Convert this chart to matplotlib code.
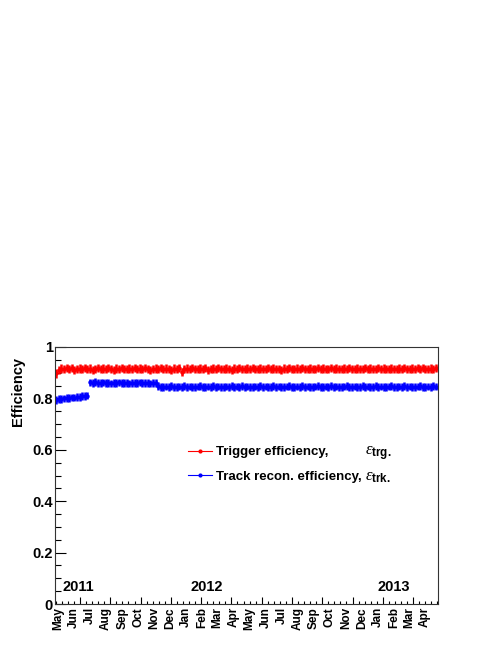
import matplotlib
matplotlib.use('Agg')
import matplotlib.pyplot as plt
import numpy as np
from matplotlib.lines import Line2D
from matplotlib.ticker import FixedLocator, FuncFormatter, MultipleLocator

# === DATOS (dias desde 2011-05-01, muestreo cada 5 dias) ===
day = np.arange(2, 730, 5)

trg_eff = [
    0.897, 0.909, 0.916, 0.913, 0.917, 0.914, 0.918, 0.912, 0.915, 0.916,
    0.913, 0.917, 0.914, 0.916, 0.911, 0.915, 0.918, 0.914, 0.916, 0.913,
    0.917, 0.915, 0.912, 0.916, 0.914, 0.918, 0.915, 0.913, 0.916, 0.914,
    0.917, 0.915, 0.916, 0.913, 0.917, 0.914, 0.912, 0.915, 0.916, 0.914,
    0.917, 0.913, 0.916, 0.915, 0.912, 0.916, 0.914, 0.917, 0.904, 0.913,
    0.916, 0.914, 0.918, 0.915, 0.913, 0.916, 0.914, 0.917, 0.912, 0.915,
    0.916, 0.914, 0.917, 0.913, 0.915, 0.916, 0.914, 0.912, 0.916, 0.915,
    0.917, 0.913, 0.915, 0.916, 0.914, 0.917, 0.915, 0.913, 0.916, 0.914,
    0.915, 0.917, 0.913, 0.916, 0.914, 0.915, 0.912, 0.916, 0.914, 0.917,
    0.915, 0.913, 0.916, 0.914, 0.917, 0.915, 0.913, 0.916, 0.914, 0.915,
    0.917, 0.914, 0.916, 0.913, 0.915, 0.917, 0.914, 0.916, 0.913, 0.915,
    0.916, 0.914, 0.917, 0.915, 0.913, 0.916, 0.914, 0.915, 0.917, 0.913,
    0.916, 0.914, 0.915, 0.917, 0.914, 0.916, 0.913, 0.915, 0.916, 0.914,
    0.915, 0.916, 0.914, 0.917, 0.913, 0.915, 0.916, 0.914, 0.917, 0.915,
    0.917, 0.915, 0.913, 0.916, 0.914, 0.918,
]

trk_eff = [
    # mayo - principios de julio 2011
    0.795, 0.798, 0.797, 0.800, 0.802, 0.801, 0.804, 0.803, 0.806, 0.805,
    0.808, 0.809, 0.811,
    # julio - noviembre 2011
    0.862, 0.860, 0.863, 0.861, 0.859, 0.862, 0.860, 0.861, 0.858, 0.861,
    0.860, 0.862, 0.859, 0.861, 0.860, 0.858, 0.861, 0.859, 0.860, 0.862,
    0.859, 0.861, 0.860, 0.858, 0.861, 0.859,
    # noviembre 2011 - abril 2013
    0.849, 0.845, 0.843, 0.846, 0.844, 0.847, 0.845, 0.843, 0.846, 0.845,
    0.847, 0.844, 0.846, 0.845, 0.843, 0.846, 0.847, 0.845, 0.844, 0.846,
    0.845, 0.847, 0.844, 0.846, 0.845, 0.843, 0.846, 0.845, 0.847, 0.844,
    0.846, 0.845, 0.847, 0.844, 0.846, 0.843, 0.845, 0.846, 0.844, 0.847,
    0.845, 0.846, 0.844, 0.845, 0.847, 0.843, 0.846, 0.845, 0.844, 0.846,
    0.847, 0.845, 0.843, 0.846, 0.845, 0.847, 0.844, 0.846, 0.845, 0.844,
    0.846, 0.847, 0.845, 0.843, 0.846, 0.845, 0.847, 0.844, 0.846, 0.845,
    0.844, 0.846, 0.847, 0.845, 0.843, 0.846, 0.845, 0.844, 0.847, 0.845,
    0.846, 0.844, 0.845, 0.847, 0.843, 0.846, 0.845, 0.844, 0.846, 0.847,
    0.845, 0.843, 0.846, 0.845, 0.847, 0.844, 0.846, 0.845, 0.844, 0.846,
    0.847, 0.845, 0.843, 0.846, 0.845, 0.847, 0.846,
]

trg_err = 0.016
trk_err = 0.015

month_names = ['May', 'Jun', 'Jul', 'Aug', 'Sep', 'Oct', 'Nov', 'Dec',
               'Jan', 'Feb', 'Mar', 'Apr'] * 2
year_labels = ['2011', '2012', '2013']
year_pos = [15, 258, 616]

# === ESTILO ===
plt.rcParams['font.family'] = ['Liberation Sans', 'DejaVu Sans']
plt.rcParams['mathtext.fontset'] = 'custom'
plt.rcParams['mathtext.rm'] = 'Liberation Serif'
plt.rcParams['mathtext.it'] = 'Liberation Serif:italic'
plt.rcParams['mathtext.bf'] = 'Liberation Sans:bold'

fig = plt.figure(figsize=(4.98, 6.45), dpi=100)
fig.patch.set_facecolor('white')
ax = fig.add_axes([55 / 498, 41 / 645, 383 / 498, 257 / 645])

ax.errorbar(day, trg_eff, yerr=trg_err, fmt='o', color='#ff0000', ms=3.2,
            mew=0, elinewidth=1.8, capsize=0)
ax.errorbar(day, trk_eff, yerr=trk_err, fmt='o', color='#0000ff', ms=3.2,
            mew=0, elinewidth=1.8, capsize=0)

ax.set_xlim(0, 731)
ax.set_ylim(0, 1)

for s in ax.spines.values():
    s.set_linewidth(0.8)
    s.set_color('#333333')

# eje y
ax.yaxis.set_major_locator(MultipleLocator(0.2))
ax.yaxis.set_minor_locator(MultipleLocator(0.05))
ax.yaxis.set_major_formatter(FuncFormatter(lambda v, p: '%g' % round(v, 2)))
ax.tick_params(axis='y', which='major', direction='in', length=8, width=0.8,
               pad=1.5, labelsize=10.5, right=False)
ax.tick_params(axis='y', which='minor', direction='in', length=4, width=0.8,
               right=False)
for lab in ax.get_yticklabels():
    lab.set_fontweight('bold')

# eje x: ticks tipo ROOT (major cada ~57.8 dias)
major_x = 47.7 + 57.8 * np.arange(12)
minor_x = 47.7 - 4 * 11.56 + 11.56 * np.arange(64)
minor_x = minor_x[(minor_x > 0) & (minor_x < 731)]
ax.xaxis.set_major_locator(FixedLocator(major_x))
ax.xaxis.set_minor_locator(FixedLocator(minor_x))
ax.tick_params(axis='x', which='major', direction='in', length=5, width=0.8,
               labelbottom=False, top=False)
ax.tick_params(axis='x', which='minor', direction='in', length=2.5, width=0.8,
               top=False)

months = np.arange('2011-05', '2013-05', dtype='datetime64[M]')
month_day = (months.astype('datetime64[D]') - np.datetime64('2011-05-01')).astype(int)
xtr = ax.get_xaxis_transform()
for d, name in zip(month_day, month_names):
    ax.text(d + 5.5, -0.012, name, transform=xtr, rotation=90, ha='center',
            va='top', fontsize=8.5, fontweight='bold')

for txt, x in zip(year_labels, year_pos):
    ax.text(x, 0.05, txt, fontsize=10.5, fontweight='bold', ha='left',
            va='baseline')

fig.text(18 / 498, 1 - 357 / 645, 'Efficiency', rotation=90, ha='center',
         va='top', fontsize=10.5, fontweight='bold')

# leyenda
handles = [Line2D([], [], color='#ff0000', marker='o', ms=3, mew=0, lw=0.8),
           Line2D([], [], color='#0000ff', marker='o', ms=3, mew=0, lw=0.8)]
labels = ['Trigger efficiency,', 'Track recon. efficiency,']
ax.legend(handles, labels, loc='upper left', bbox_to_anchor=(0.347, 0.615),
          frameon=False, borderpad=0, borderaxespad=0, handlelength=1.82,
          handletextpad=0.3, labelspacing=0.92,
          prop={'family': 'Liberation Sans', 'weight': 'bold', 'size': 9.5})
ax.text(0.809, 0.578, r'$\varepsilon_{\mathbf{trg.}}$', transform=ax.transAxes,
        fontsize=12, ha='left', va='baseline')
ax.text(0.809, 0.480, r'$\varepsilon_{\mathbf{trk.}}$', transform=ax.transAxes,
        fontsize=12, ha='left', va='baseline')

plt.savefig('out.png', dpi=100)
plt.close()
